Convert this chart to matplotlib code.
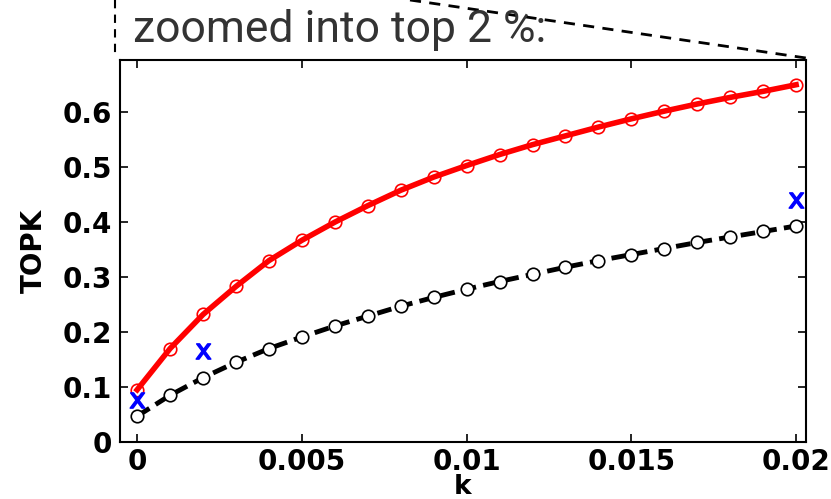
import matplotlib.pyplot as plt
from matplotlib.lines import Line2D

k = [0, 0.001, 0.002, 0.003, 0.004, 0.005, 0.006, 0.007, 0.008, 0.009, 0.010,
     0.011, 0.012, 0.013, 0.014, 0.015, 0.016, 0.017, 0.018, 0.019, 0.020]
topk_red = [0.095, 0.170, 0.232, 0.283, 0.330, 0.367, 0.400, 0.430, 0.458, 0.482, 0.503,
            0.523, 0.541, 0.557, 0.573, 0.588, 0.602, 0.615, 0.627, 0.638, 0.650]
topk_black = [0.047, 0.085, 0.117, 0.145, 0.170, 0.191, 0.211, 0.229, 0.247, 0.263, 0.278,
              0.292, 0.305, 0.318, 0.330, 0.341, 0.352, 0.363, 0.373, 0.383, 0.393]
x_k = [0, 0.002, 0.020]
x_topk = [0.077, 0.165, 0.440]

plt.rcParams['font.family'] = ['DejaVu Sans']

fig = plt.figure(figsize=(8.31, 4.99), dpi=100)
ax = fig.add_axes([120 / 831, 1 - 442 / 499, 686 / 831, 382 / 499])

ax.plot(k, topk_red, color='red', lw=4, marker='o', ms=9, mfc='none', mec='red', mew=1.2)
ax.plot(k, topk_black, color='black', lw=3.5, ls=(0, (3, 1.5)), marker='o', ms=9,
        mfc='white', mec='black', mew=1.2)
ax.plot(x_k, x_topk, ls='none', marker='$\\mathsf{x}$', color='blue', ms=11)

ax.set_xlim(-0.00052, 0.0203)
ax.set_ylim(0, 0.695)
ax.set_xticks([0, 0.005, 0.01, 0.015, 0.02])
ax.set_xticklabels(['0', '0.005', '0.01', '0.015', '0.02'])
ax.set_yticks([0, 0.1, 0.2, 0.3, 0.4, 0.5, 0.6])
ax.set_yticklabels(['0', '0.1', '0.2', '0.3', '0.4', '0.5', '0.6'])
ax.tick_params(direction='in', length=6, width=1.2, labelsize=20, top=True, right=True, pad=6)
ax.tick_params(axis='x', pad=4)
for lab in ax.get_xticklabels() + ax.get_yticklabels():
    lab.set_fontweight('semibold')
for s in ax.spines.values():
    s.set_linewidth(1.5)
ax.set_xlabel('k', fontsize=19, labelpad=-1, fontweight='semibold')
ax.set_ylabel('TOPK', fontsize=20, labelpad=10, fontweight='semibold')

fig.text(133 / 831, 1 - 30 / 499, 'zoomed into top 2 %:', fontsize=32, color='#333333',
         va='center', ha='left', family='Roboto')

fig.add_artist(Line2D([115 / 831, 115 / 831], [1, 1 - 55 / 499], transform=fig.transFigure,
                      color='black', lw=1.5, ls=(0, (4, 3))))
fig.add_artist(Line2D([410 / 831, 806 / 831], [1, 1 - 58 / 499], transform=fig.transFigure,
                      color='black', lw=2, ls=(0, (4, 3))))

fig.savefig('out.png', dpi=100)
